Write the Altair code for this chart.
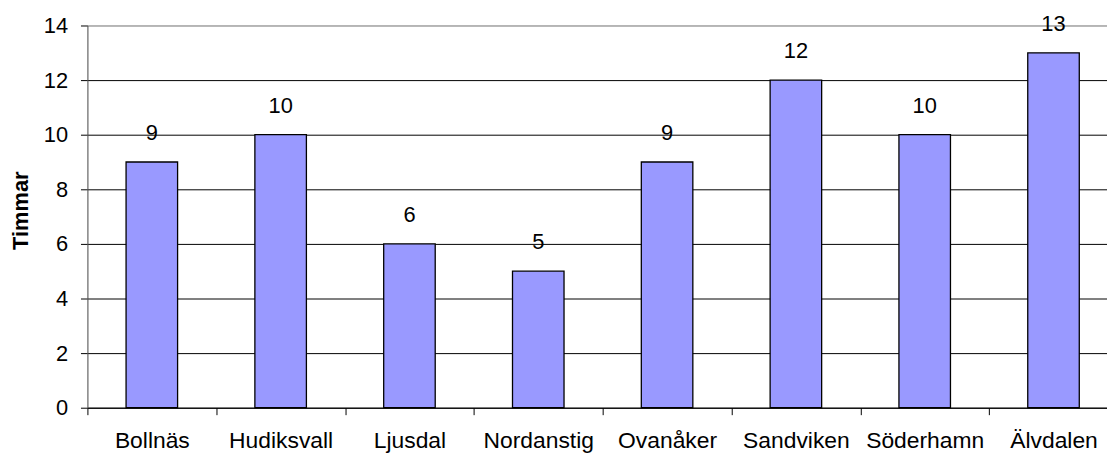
import altair as alt
import pandas as pd

kommuner = ["Bollnäs", "Hudiksvall", "Ljusdal", "Nordanstig", "Ovanåker",
            "Sandviken", "Söderhamn", "Älvdalen"]
timmar = [9, 10, 6, 5, 9, 12, 10, 13]

df = pd.DataFrame({"kommun": kommuner, "timmar": timmar})

FONT = "Liberation Sans"
FS = 22

x_enc = alt.X(
    "kommun:N",
    sort=kommuner,
    scale=alt.Scale(paddingInner=0, paddingOuter=0, range=[0, 1038]),
    axis=alt.Axis(
        title=None, labelAngle=0, tickBand="extent", tickSize=7,
        tickColor="black", domainColor="black", labelPadding=15,
        labelFontSize=23, labelFont=FONT, labelColor="black", grid=False,
    ),
)
y_enc = alt.Y(
    "timmar:Q",
    scale=alt.Scale(domain=[0, 14], nice=False),
    axis=alt.Axis(
        title="Timmar", values=list(range(0, 15, 2)), tickSize=7,
        tickColor="black", domainColor="#555555", labelPadding=13,
        labelFontSize=FS, labelFont=FONT, labelColor="black",
        titleFont=FONT, titleFontSize=22, titleFontWeight="bold",
        titleColor="black", titleAngle=-90, titleX=-67, titleY=186,
        titleAlign="center", titleBaseline="middle",
        grid=True,
        gridColor=alt.condition(alt.datum.value == 14, alt.value("#808080"), alt.value("black")),
        gridOpacity=1, gridWidth=1,
    ),
)

bars = alt.Chart(df).mark_bar(
    width=alt.RelativeBandSize(0.4), color="#9999FF", stroke="black", strokeWidth=1.3
).encode(x=x_enc, y=y_enc)

labels = alt.Chart(df).mark_text(
    baseline="bottom", dy=-17, fontSize=FS, font=FONT, color="black"
).encode(x=alt.X("kommun:N", sort=kommuner), y="timmar:Q", text="timmar:Q")

chart = alt.layer(bars, labels).properties(
    width=1027, height=385,
    autosize=alt.AutoSizeParams(type="none"),
    padding={"left": 80, "top": 16, "right": 0, "bottom": 46},
).configure_view(stroke=None).configure(background="white")

chart.save("out.html", embed_options={"renderer": "svg", "actions": False})
